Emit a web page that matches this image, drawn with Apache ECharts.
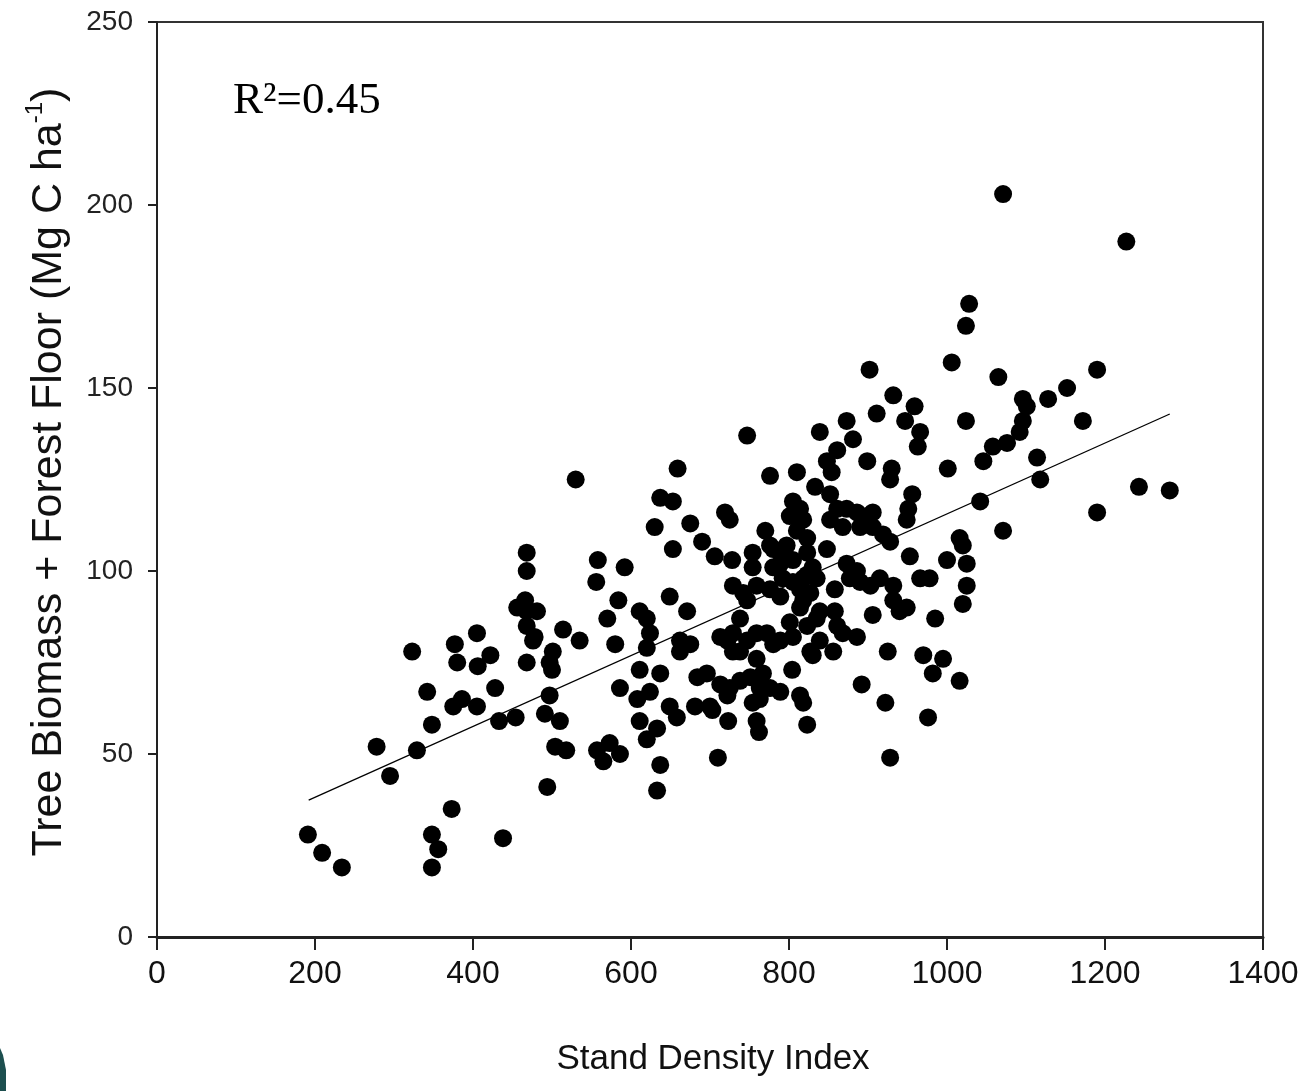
<!DOCTYPE html>
<html>
<head>
<meta charset="utf-8">
<script src="https://cdn.jsdelivr.net/npm/echarts@6/dist/echarts.min.js"></script>
<style>
html,body{margin:0;padding:0;background:#fff;}
#chart{width:1301px;height:1091px;}
</style>
</head>
<body>
<div id="chart"></div>
<script>
// Axis settings
const xTicks = [0, 200, 400, 600, 800, 1000, 1200, 1400];
const yTicks = [0, 50, 100, 150, 200, 250];

// Observed plots: [Stand Density Index, Tree Biomass + Forest Floor (Mg C/ha)]
const plotsLow = [
  [191,28],[209,23],[234,19],[278,52],[295,44],
  [323,78],[329,51],[342,67],[348,58],[348,28],[356,24],[348,19],[373,35],
  [377,80],[380,75],[375,63],[386,65],[405,63],[405,83],[422,77],[406,74],[428,68],[433,59],[454,60],[438,27],
  [468,89],[481,89],[468,85],[478,82],[514,84],[468,75],[497,75],[501,78],[497,66],[491,61],[510,59],[504,52],[518,51],[494,41],
  [468,105],[468,100],[466,92],[456,90],[476,81],[500,73]
];
const plotsMidLeft = [
  [530,125],[659,128],[637,120],[653,119],[630,112],[675,113],[690,108],[653,106],
  [558,103],[592,101],[556,97],[584,92],[570,87],[611,89],[620,87],[649,93],[671,89],
  [535,81],[580,80],[624,83],[620,79],[662,81],[675,80],
  [611,73],[637,72],[662,78],[684,71],[586,68],[608,65],[624,67],[649,63],[658,60],[611,59],[633,57],[620,54],[681,63],
  [557,51],[573,53],[586,50],[565,48],[637,47],[633,40],[696,72],[700,63]
];
const plotsCenter = [
  [747,137],[776,126],[719,116],[725,114],[706,104],[728,103],[770,111],[754,105],[754,101],[780,106],
  [729,96],[742,94],[759,96],[776,95],[738,87],[747,92],
  [713,82],[729,83],[747,81],[772,83],[780,80],[722,81],[729,78],[759,83],
  [713,69],[725,68],[738,70],[751,71],[763,68],[776,68],[789,67],[738,78],[759,76],[722,66],
  [703,62],[723,59],[754,64],[759,59],[762,56],[710,49],
  [797,107],[789,102],[792,98],[805,97],[823,99],[814,95],[789,81],[805,82],[801,86]
];
const plotsCenterRight = [
  [810,127],[833,123],[839,138],
  [805,119],[814,117],[801,115],[818,114],[810,111],[823,109],
  [852,121],[861,117],[852,114],[873,117],[886,116],[899,115],[906,116],[906,112],[919,110],[928,108],[890,112],[868,112],
  [776,107],[789,105],[805,103],[823,105],[830,101],[780,101],[818,98],[835,98],[848,106],
  [789,93],[818,92],[827,94],[873,102],[886,100],[877,98],[890,97],[903,96],[858,95],[839,89],[858,89],
  [814,90],[835,87],[861,85],[839,81],[856,78],[830,77],[886,82],[868,83],[823,85],[827,78],
  [804,73],[767,72],[763,65],[814,66],[818,64],[823,58]
];
const plotsRight = [
  [873,141],[881,136],[861,133],[848,130],[854,127],[899,130],[930,128],[928,125],[902,155],[932,148],[911,143],
  [959,145],[947,141],[966,138],[963,134],[1024,141],[1001,128],
  [956,121],[951,117],[949,114],[1042,119],[1071,111],[1016,109],[1020,107],[1025,102],[1000,103],[953,104],
  [966,98],[978,98],[915,98],[932,96],[932,92],[949,90],[940,89],[906,88],[1025,96],[1020,91],[985,87],
  [970,77],[995,76],[982,72],[1016,70],[976,60],[925,78],[922,64],[892,69],[928,49]
];
const plotsFarRight = [
  [1071,203],[1227,190],[1028,173],[1024,167],[1006,157],[1065,153],[1190,155],[1152,150],[1128,147],
  [1096,147],[1101,145],[1096,141],[1092,138],[1172,141],[1046,130],[1058,134],[1076,135],
  [1114,131],[1118,125],[1243,123],[1282,122],[1190,116]
];

// Fitted regression line end points
const fitX = [192, 1282];
const fitY = [37.4, 142.9];

const rSquaredText = 'R\u00B2=0.45';
const xAxisTitle = 'Stand Density Index';

const allPlots = [].concat(plotsLow, plotsMidLeft, plotsCenter, plotsCenterRight, plotsRight, plotsFarRight);
const fitLine = fitX.map((x, i) => [x, fitY[i]]);

const chart = echarts.init(document.getElementById('chart'), null, {renderer: 'canvas'});
const axisColor = '#222';
chart.setOption({
  animation: false,
  backgroundColor: '#fff',
  grid: {left: 157, right: 38, top: 22, bottom: 154, show: true, borderColor: '#333', borderWidth: 2,
    backgroundColor: 'transparent', containLabel: false, outerBoundsMode: 'none'},
  xAxis: {
    type: 'value', min: xTicks[0], max: xTicks[xTicks.length - 1], interval: 200,
    splitLine: {show: false},
    axisLine: {show: true, onZero: false, lineStyle: {color: axisColor, width: 3}},
    axisTick: {show: true, inside: false, length: 13, lineStyle: {color: axisColor, width: 2}},
    axisLabel: {margin: 21, fontSize: 32, color: '#111', formatter: v => String(v),
      fontFamily: '"Liberation Sans Narrow", "Liberation Sans", Arial, sans-serif'}
  },
  yAxis: {
    type: 'value', min: yTicks[0], max: yTicks[yTicks.length - 1], interval: 50,
    splitLine: {show: false},
    axisLine: {show: true, onZero: false, lineStyle: {color: axisColor, width: 2}},
    axisTick: {show: true, inside: false, length: 9, lineStyle: {color: axisColor, width: 2}},
    axisLabel: {margin: 24, fontSize: 28, color: '#222', formatter: v => String(v),
      fontFamily: '"Liberation Sans", Arial, sans-serif'}
  },
  series: [
    {
      type: 'scatter', data: allPlots, symbol: 'circle', symbolSize: 18,
      itemStyle: {color: '#000', opacity: 1}, z: 2
    },
    {
      type: 'line', data: fitLine, showSymbol: false, symbol: 'none',
      lineStyle: {color: '#000', width: 1.3}, z: 3, silent: true
    }
  ],
  graphic: [
    {
      type: 'text', x: 47, y: 472, rotation: Math.PI / 2,
      style: {
        text: '{a|Tree Biomass + Forest Floor (Mg C ha}{s|-1}{a|)}',
        align: 'center', verticalAlign: 'middle', fill: '#111',
        rich: {
          a: {fontSize: 43, lineHeight: 47, fontFamily: '"Liberation Sans", Arial, sans-serif', fill: '#111', verticalAlign: 'bottom'},
          s: {fontSize: 24, lineHeight: 47, fontFamily: '"Liberation Sans", Arial, sans-serif', fill: '#111', verticalAlign: 'top'}
        }
      }
    },
    {
      type: 'text', x: 713, y: 1059,
      style: {text: xAxisTitle, align: 'center', verticalAlign: 'middle', fontSize: 35, fill: '#111',
        fontFamily: '"Liberation Sans", Arial, sans-serif'}
    },
    {
      type: 'text', x: 233, y: 101,
      style: {text: rSquaredText, align: 'left', verticalAlign: 'middle', fontSize: 45, fill: '#000',
        fontFamily: '"Liberation Serif", "Times New Roman", serif'}
    },
    {
      type: 'polygon',
      shape: {points: [[0,1048],[3,1055],[6,1070],[6,1091],[0,1091]]},
      style: {fill: '#1d4f4f'}
    }
  ]
});
</script>
</body>
</html>
